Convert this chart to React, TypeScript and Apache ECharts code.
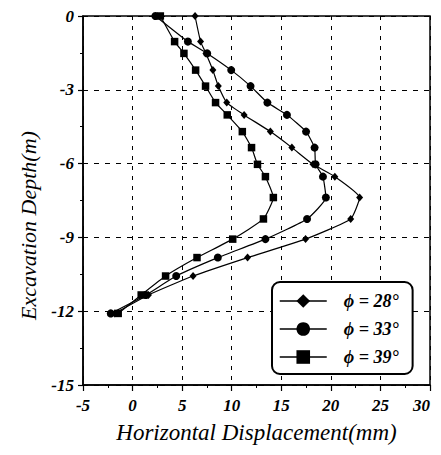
import React, { useEffect, useRef } from "react";
import * as echarts from "echarts";

const depths = [0, -1.04, -1.52, -2.2, -2.85, -3.52, -4.02, -4.7, -5.35, -6.03, -6.53, -7.38, -8.25, -9.07, -9.82, -10.57, -11.34, -12.09];
const phi28 = [6.3, 6.86, 7.4, 8.1, 8.65, 9.5, 11.25, 13.9, 16.07, 18.2, 20.4, 22.9, 22.0, 17.45, 11.6, 6.1, 1.6, -1.8];
const phi33 = [2.3, 5.58, 7.53, 9.95, 11.9, 13.6, 15.57, 17.5, 18.36, 18.46, 19.2, 19.5, 17.6, 13.4, 8.6, 4.4, 1.35, -2.2];
const phi39 = [2.8, 4.24, 5.18, 6.36, 7.36, 8.37, 9.55, 11.07, 12.0, 12.6, 13.4, 14.2, 13.2, 10.1, 6.5, 3.33, 0.87, -1.45];
const seriesNames = ["ϕ = 28°", "ϕ = 33°", "ϕ = 39°"];
const xTitle = "Horizontal Displacement(mm)";
const yTitle = "Excavation Depth(m)";

const SERIF = "Liberation Serif";

export default function App() {
  const ref = useRef<HTMLDivElement>(null);
  useEffect(() => {
    if (!ref.current) return;
    const chart = echarts.init(ref.current, undefined, { renderer: "svg" });
    const mk = (vals: number[]) => vals.map((v, i) => [v, depths[i]]);
    const common = {
      type: "line",
      smooth: 0.15,
      lineStyle: { color: "#000", width: 1.2 },
      itemStyle: { color: "#000" },
      color: "#000",
    };
    chart.setOption({
      animation: false,
      backgroundColor: "#fff",
      textStyle: { fontFamily: SERIF },
      grid: {
        left: 83,
        right: 11,
        top: 16,
        bottom: 70,
        show: true,
        borderColor: "#000",
        borderWidth: 1.5,
      },
      legend: {
        orient: "vertical",
        left: 272,
        top: 282,
        backgroundColor: "#fff",
        borderColor: "#000",
        borderWidth: 2,
        borderRadius: 8,
        padding: [10, 14, 8, 7],
        itemWidth: 47,
        itemHeight: 17,
        itemGap: 10,
        lineStyle: { width: 1.5 },
        textStyle: {
          fontFamily: SERIF,
          fontStyle: "italic",
          fontWeight: "bold",
          fontSize: 18,
          color: "#000",
          padding: [0, 0, 0, 12],
        },
        data: seriesNames,
      },
      xAxis: {
        type: "value",
        min: -5,
        max: 30,
        interval: 5,
        name: xTitle,
        nameLocation: "middle",
        nameGap: 36,
        nameTextStyle: { fontFamily: SERIF, fontStyle: "italic", fontSize: 23, color: "#000" },
        axisLine: { onZero: false, lineStyle: { color: "#000", width: 1.5 } },
        axisTick: { show: true, length: 6, lineStyle: { color: "#000", width: 1.2 } },
        minorTick: { show: true, splitNumber: 2, length: 3, lineStyle: { color: "#000" } },
        axisLabel: {
          fontFamily: SERIF,
          fontStyle: "italic",
          fontWeight: "bold",
          fontSize: 17,
          color: "#000",
          margin: 12,
          alignMaxLabel: "right",
        },
        splitLine: { show: true, lineStyle: { color: "#000", type: [4, 6], width: 1 } },
      },
      yAxis: {
        type: "value",
        min: -15,
        max: 0,
        interval: 3,
        name: yTitle,
        nameLocation: "middle",
        nameGap: 44,
        nameTextStyle: { fontFamily: SERIF, fontStyle: "italic", fontSize: 22, color: "#000", padding: [0, 50, 0, 0] },
        axisLine: { onZero: false, lineStyle: { color: "#000", width: 1.5 } },
        axisTick: { show: true, length: 5, lineStyle: { color: "#000", width: 1.2 } },
        minorTick: { show: true, splitNumber: 2, length: 3, lineStyle: { color: "#000" } },
        axisLabel: {
          fontFamily: SERIF,
          fontStyle: "italic",
          fontWeight: "bold",
          fontSize: 17,
          color: "#000",
          margin: 9,
        },
        splitLine: { show: true, lineStyle: { color: "#000", type: [5, 6], width: 1 } },
      },
      series: [
        { ...common, name: seriesNames[0], symbol: "diamond", symbolSize: [7, 8], data: mk(phi28) },
        { ...common, name: seriesNames[1], symbol: "circle", symbolSize: 8, data: mk(phi33) },
        { ...common, name: seriesNames[2], symbol: "rect", symbolSize: 7.5, data: mk(phi39) },
      ],
    });
    return () => chart.dispose();
  }, []);
  return <div ref={ref} style={{ width: 441, height: 455, margin: -8 }} />;
}
